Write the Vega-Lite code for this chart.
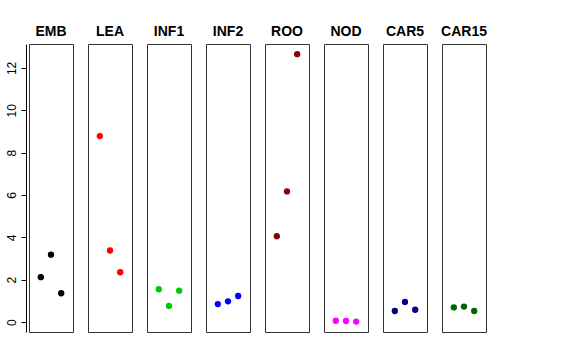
{
  "$schema": "https://vega.github.io/schema/vega-lite/v6.json",
  "padding": {"left": 4, "top": 25, "right": 5, "bottom": 5},
  "background": "white",
  "bounds": "flush",
  "data": {"values": [
    {"group": "EMB", "pos": 1, "value": 2.12},
    {"group": "EMB", "pos": 2, "value": 3.18},
    {"group": "EMB", "pos": 3, "value": 1.36},
    {"group": "LEA", "pos": 1, "value": 8.78},
    {"group": "LEA", "pos": 2, "value": 3.38},
    {"group": "LEA", "pos": 3, "value": 2.35},
    {"group": "INF1", "pos": 1, "value": 1.55},
    {"group": "INF1", "pos": 2, "value": 0.76},
    {"group": "INF1", "pos": 3, "value": 1.48},
    {"group": "INF2", "pos": 1, "value": 0.85},
    {"group": "INF2", "pos": 2, "value": 0.98},
    {"group": "INF2", "pos": 3, "value": 1.23},
    {"group": "ROO", "pos": 1, "value": 4.05},
    {"group": "ROO", "pos": 2, "value": 6.17},
    {"group": "ROO", "pos": 3, "value": 12.65},
    {"group": "NOD", "pos": 1, "value": 0.06},
    {"group": "NOD", "pos": 2, "value": 0.05},
    {"group": "NOD", "pos": 3, "value": 0.02},
    {"group": "CAR5", "pos": 1, "value": 0.52},
    {"group": "CAR5", "pos": 2, "value": 0.95},
    {"group": "CAR5", "pos": 3, "value": 0.58},
    {"group": "CAR15", "pos": 1, "value": 0.69},
    {"group": "CAR15", "pos": 2, "value": 0.73},
    {"group": "CAR15", "pos": 3, "value": 0.52}
  ]},
  "facet": {
    "column": {
      "field": "group", "type": "nominal",
      "sort": ["EMB", "LEA", "INF1", "INF2", "ROO", "NOD", "CAR5", "CAR15"],
      "header": {"title": null, "labelFontWeight": "bold", "labelFontSize": 14, "labelFont": "Liberation Sans", "labelColor": "black", "labelPadding": 5}
    }
  },
  "spacing": 15,
  "spec": {
    "width": 44,
    "height": 288,
    "mark": {"type": "point", "filled": true, "size": 40, "opacity": 1},
    "encoding": {
      "x": {"field": "pos", "type": "quantitative", "scale": {"domain": [-0.16, 4.16], "nice": false, "zero": false}, "axis": null},
      "y": {"field": "value", "type": "quantitative",
        "scale": {"domain": [-0.47, 13.13], "nice": false, "zero": false},
        "axis": {"title": null, "values": [0, 2, 4, 6, 8, 10, 12], "grid": false, "labelAngle": -90, "tickSize": 5, "labelFontSize": 12, "labelFont": "Liberation Sans", "labelColor": "black", "tickColor": "black", "domainColor": "black", "offset": 3, "labelPadding": 3}},
      "color": {"field": "group", "type": "nominal", "legend": null,
        "scale": {"domain": ["EMB", "LEA", "INF1", "INF2", "ROO", "NOD", "CAR5", "CAR15"],
                  "range": ["#000000", "#FF0000", "#00CD00", "#0000FF", "#8B0000", "#FF00FF", "#000080", "#006400"]}}
    }
  },
  "config": {"view": {"stroke": "#333333", "strokeWidth": 1}, "font": "Liberation Sans"}
}
